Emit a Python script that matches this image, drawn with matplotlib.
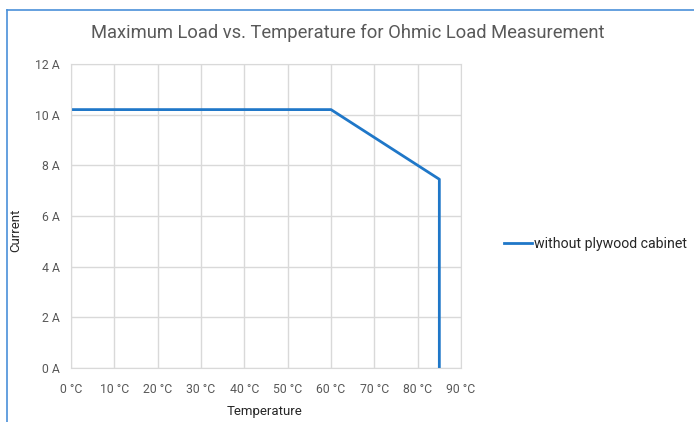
import matplotlib.pyplot as plt
from matplotlib.lines import Line2D

# data
temp = [0, 60, 85, 85]
current = [10.2, 10.2, 7.45, 0]
x_ticks = [0, 10, 20, 30, 40, 50, 60, 70, 80, 90]
y_ticks = [0, 2, 4, 6, 8, 10, 12]

plt.rcParams['font.family'] = ['Roboto', 'DejaVu Sans']

fig = plt.figure(figsize=(6.94, 4.22), dpi=100)
ax = fig.add_axes([71/694, 1 - 368/422, 390/694, 304/422])

ax.plot(temp, current, color='#1f77c8', lw=2, label='without plywood cabinet')

ax.set_xlim(0, 90)
ax.set_ylim(0, 12)
ax.set_xticks(x_ticks)
ax.set_yticks(y_ticks)
ax.set_xticklabels([f'{t} °C' for t in x_ticks])
ax.set_yticklabels([f'{v} A' for v in y_ticks])
ax.tick_params(length=0, labelsize=8.8, colors='#595959', pad=8)
ax.tick_params(axis='x', pad=11)
ax.grid(True, color='#d9d9d9', lw=1)
ax.set_axisbelow(True)
for s in ax.spines.values():
    s.set_color('#d9d9d9')

fig.text(348/694, 1 - 33/422, 'Maximum Load vs. Temperature for Ohmic Load Measurement',
         ha='center', va='center', fontsize=13.2, color='#595959')
fig.text(265/694, 1 - 411/422, 'Temperature', ha='center', va='center',
         fontsize=9.5, color='#262626')
fig.text(16/694, 1 - 230/422, 'Current', ha='center', va='center',
         rotation=90, fontsize=9.5, color='#262626')

ax.legend(loc='center left', bbox_to_anchor=(491/694, 1 - 244/422),
          bbox_transform=fig.transFigure, frameon=False, fontsize=10.2,
          handlelength=2.0, handletextpad=0.15, labelcolor='#262626')

# blue selection frame at top and left
fig.add_artist(Line2D([7/694, 1], [1 - 10/422, 1 - 10/422], color='#4a90d9', lw=1.2))
fig.add_artist(Line2D([7/694, 7/694], [0, 1 - 10/422], color='#4a90d9', lw=1.2))

fig.savefig('out.png', dpi=100)
